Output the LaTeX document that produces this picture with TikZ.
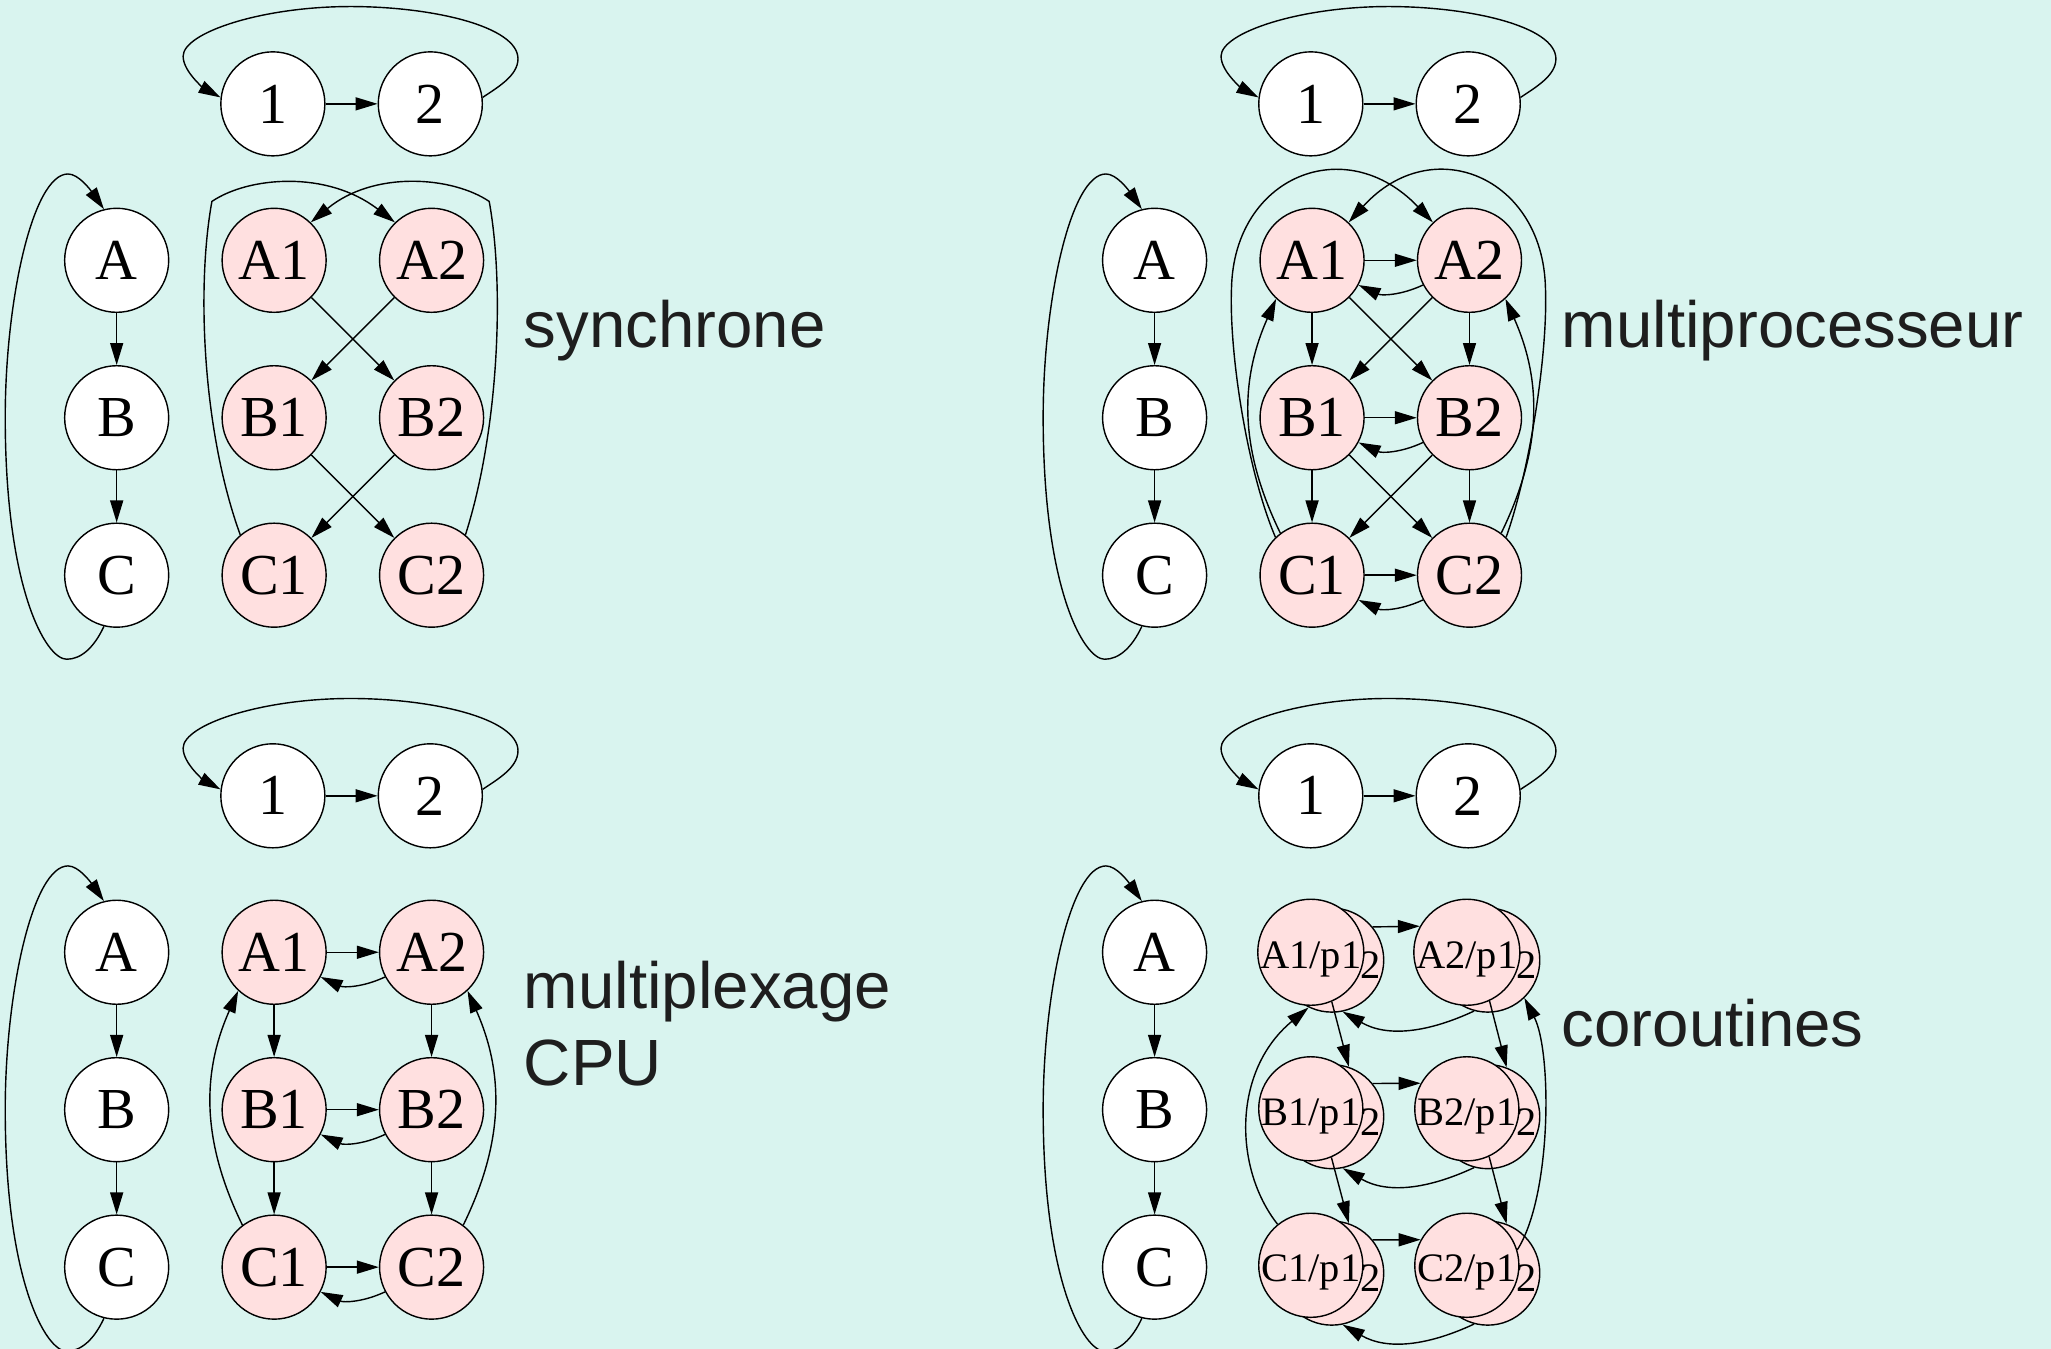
\documentclass[tikz,border=0pt]{standalone}
\usepackage{fontspec}
\setmainfont{Liberation Serif}
\setsansfont{Liberation Sans}
\usepackage{xcolor}
\usepackage{tikz}
\usetikzlibrary{
  arrows.meta,
  positioning
}
\definecolor{SlideMint}{HTML}{D9F4EF}
\definecolor{ThreadPink}{HTML}{FFE0E0}
\definecolor{CaptionInk}{HTML}{1E1E1E}
\tikzset{
  state/.style={
    circle,
    draw=black,
    line width=0.4pt,
    fill=white,
    minimum size=1.04cm,
    inner sep=0pt,
    font=\fontsize{16.5}{18}\selectfont
  },
  thread/.style={
    state,
    fill=ThreadPink
  },
  coro/.style={
    thread,
    text height=0.95em,
    text depth=0pt,
    font=\fontsize{11.5}{13}\selectfont
  },
  corotwo/.style={
    inner sep=0pt,
    font=\fontsize{11.5}{13}\selectfont
  },
  link/.style={
    -{Triangle[length=2.2mm, width=1.3mm]},
    line width=0.4pt
  },
  mode/.style={
    anchor=base west,
    inner sep=0pt,
    align=left,
    text=CaptionInk,
    font=\fontsize{18.6}{21.8}\selectfont\sffamily
  }
}

% processors 1,2 and task A,B,C with their loops
\newcommand{\taskchain}[1]{%
  \node[state] (#1one) at (208.6,79.4) {1};
  \node[state, right=of #1one] (#1two) {2};
  \node[state] (#1A) at (89.2,199) {A};
  \node[state, below=of #1A] (#1B) {B};
  \node[state, below=of #1B] (#1C) {C};
  \draw[link] (#1one) -- (#1two);
  \draw[link] (#1two.7) .. controls (380,67) and (396,58) .. (396,45)
    .. controls (396,20) and (330,5) .. (268,5)
    .. controls (200,5) and (140,25) .. (140,43)
    .. controls (140,55) and (156.8,68) .. (#1one.173);
  \draw[link] (#1A) -- (#1B);
  \draw[link] (#1B) -- (#1C);
  \draw[link] (#1C.-104) .. controls (72,495) and (62,504) .. (51,504)
    .. controls (35,504) and (4,450) .. (4,319)
    .. controls (4,230) and (25,133) .. (52,133)
    .. controls (60,133) and (69,145) .. (#1A.104);
}

% threads A1 .. C2 for two processors
\newcommand{\threadgrid}[1]{%
  \node[thread, right=of #1A] (#1A1) {A1};
  \node[thread, right=of #1A1] (#1A2) {A2};
  \node[thread, below=of #1A1] (#1B1) {B1};
  \node[thread, below=of #1A2] (#1B2) {B2};
  \node[thread, below=of #1B1] (#1C1) {C1};
  \node[thread, below=of #1B2] (#1C2) {C2};
}

% coroutine: two stacked states
\newcommand{\coronode}[4]{%
  \node[coro] (#1b) at (#2+16,#3+6) {};
  \node[corotwo] (#1two) at (#2+46,#3+10) {2};
  \node[coro] (#1) at (#2,#3) {#4};
}

\begin{document}
\begin{tikzpicture}[
  x=0.01308cm,
  y=-0.01308cm,
  node distance=5.2mm
]

  \useasboundingbox (0,0) rectangle (1568,1031);
  \clip (0,0) rectangle (1568,1031);
  \fill[SlideMint] (0,0) rectangle (1568,1031);

  % synchrone
  \begin{scope}
    \taskchain{s}
    \threadgrid{s}
    \draw[link] (sA1) -- (sB2);
    \draw[link] (sA2) -- (sB1);
    \draw[link] (sB1) -- (sC2);
    \draw[link] (sB2) -- (sC1);
    \draw[link] (sC1.130) .. controls (155,330) and (150,220) .. (162,154)
      .. controls (190,135) and (250,130) .. (sA2.134);
    \draw[link] (sC2.50) .. controls (381,330) and (386,220) .. (374,154)
      .. controls (346,135) and (286,130) .. (sA1.46);
    \node[mode] (synclabel) at (400,266) {synchrone};
  \end{scope}

  % multiprocesseur
  \begin{scope}[shift={(793.5,0)}]
    \taskchain{m}
    \threadgrid{m}
    \draw[link] (mA1) -- (mA2);
    \draw[link] (mA2.-152) to[bend left=25] (mA1.-28);
    \draw[link] (mB1) -- (mB2);
    \draw[link] (mB2.-152) to[bend left=25] (mB1.-28);
    \draw[link] (mC1) -- (mC2);
    \draw[link] (mC2.-152) to[bend left=25] (mC1.-28);
    \draw[link] (mA1) -- (mB1);
    \draw[link] (mB1) -- (mC1);
    \draw[link] (mA2) -- (mB2);
    \draw[link] (mB2) -- (mC2);
    \draw[link] (mA1) -- (mB2);
    \draw[link] (mA2) -- (mB1);
    \draw[link] (mB1) -- (mC2);
    \draw[link] (mB2) -- (mC1);
    \draw[link] (mC1.127) to[bend left=25] (mA1.-133);
    \draw[link] (mC2.53) to[bend right=25] (mA2.-47);
    \draw[link] (mC1.134) .. controls (160,360) and (146,270) .. (148,220)
      .. controls (150,135) and (235,100) .. (mA2.134);
    \draw[link] (mC2.46) .. controls (376,360) and (390,270) .. (388,220)
      .. controls (386,135) and (301,100) .. (mA1.46);
    \node[mode] (mplabel) at (400,266) {multiprocesseur};
  \end{scope}

  % multiplexage CPU
  \begin{scope}[shift={(0,529)}]
    \taskchain{x}
    \threadgrid{x}
    \draw[link] (xA1) -- (xA2);
    \draw[link] (xA2.-152) to[bend left=25] (xA1.-28);
    \draw[link] (xB1) -- (xB2);
    \draw[link] (xB2.-152) to[bend left=25] (xB1.-28);
    \draw[link] (xC1) -- (xC2);
    \draw[link] (xC2.-152) to[bend left=25] (xC1.-28);
    \draw[link] (xA1) -- (xB1);
    \draw[link] (xB1) -- (xC1);
    \draw[link] (xA2) -- (xB2);
    \draw[link] (xB2) -- (xC2);
    \draw[link] (xC1.127) to[bend left=25] (xA1.-133);
    \draw[link] (xC2.53) to[bend right=25] (xA2.-47);
    \node[mode] (cpulabel) at (400,300.5) {multiplexage\\CPU};
  \end{scope}

  % coroutines
  \begin{scope}[shift={(793.5,529)}]
    \taskchain{c}
    \coronode{cA1}{208.6}{199}{A1/p1}
    \coronode{cA2}{327.9}{199}{A2/p1}
    \coronode{cB1}{208.6}{318.7}{B1/p1}
    \coronode{cB2}{327.9}{318.7}{B2/p1}
    \coronode{cC1}{208.6}{438.3}{C1/p1}
    \coronode{cC2}{327.9}{438.3}{C2/p1}
    \draw[link] (cA1b.39) -- (cA2.151);
    \draw[link] (cA2b.-105) to[out=-155, in=-30] (cA1b.-78);
    \draw[link] (cB1b.39) -- (cB2.151);
    \draw[link] (cB2b.-105) to[out=-155, in=-30] (cB1b.-78);
    \draw[link] (cC1b.39) -- (cC2.151);
    \draw[link] (cC2b.-105) to[out=-155, in=-30] (cC1b.-78);
    \draw[link] (cA1.-67) -- (cB1b.71);
    \draw[link] (cB1.-67) -- (cC1b.71);
    \draw[link] (cA2.-65) -- (cB2b.69);
    \draw[link] (cB2.-65) -- (cC2b.69);
    \draw[link] (cC1.129) .. controls (150,365) and (148,290) .. (cA1b.-116);
    \draw[link] (cC2.17) .. controls (393,385) and (393,275) .. (cA2b.-46);
    \node[mode] (corolabel) at (400,271.2) {coroutines};
  \end{scope}

\end{tikzpicture}
\end{document}
